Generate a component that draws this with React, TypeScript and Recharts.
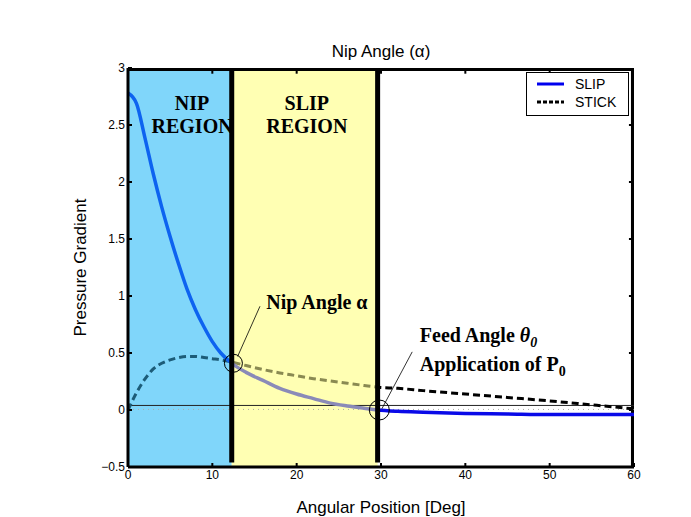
import React from "react";
import {
  LineChart,
  Line,
  XAxis,
  YAxis,
  Legend,
  ReferenceArea,
  ReferenceLine,
  ReferenceDot,
} from "recharts";

// angular position [deg]
const angle = [0, 1, 2, 3, 4, 5, 6, 7, 8, 9, 10, 11, 12.3, 14, 16, 18, 20, 22, 24, 26, 28, 29.6, 32, 35, 40, 45, 50, 55, 60];
const slip = [2.78, 2.69, 2.39, 2.07, 1.78, 1.52, 1.28, 1.06, 0.88, 0.73, 0.6, 0.5, 0.41, 0.33, 0.26, 0.19, 0.14, 0.1, 0.06, 0.035, 0.015, 0, -0.012, -0.02, -0.03, -0.035, -0.04, -0.04, -0.04];
const stick = [0, 0.15, 0.27, 0.36, 0.41, 0.44, 0.46, 0.47, 0.47, 0.46, 0.45, 0.44, 0.42, 0.39, 0.355, 0.325, 0.3, 0.275, 0.255, 0.235, 0.215, 0.2, 0.19, 0.17, 0.14, 0.11, 0.08, 0.045, 0.01];

const xTicks = [0, 10, 20, 30, 40, 50, 60];
const yTicks = [-0.5, 0, 0.5, 1, 1.5, 2, 2.5, 3];
const xDomain = [0, 60];
const yDomain = [-0.5, 3];

const nipAngle = 12.3;
const feedAngle = 29.6;
const nipPressure = 0.41;
const feedPressure = 0;
const baseLevel = 0.04;

const legendItems = [
  { name: "SLIP", color: "#0000ee", dash: "" },
  { name: "STICK", color: "#000000", dash: "4 2" },
];

const data = angle.map((a, i) => ({ angle: a, slip: slip[i], stick: stick[i] }));

const serif = "'Liberation Serif', 'Times New Roman', serif";
const sans = "'Liberation Sans', Arial, sans-serif";

const nipOff = nipAngle / xDomain[1];
const feedOff = feedAngle / xDomain[1];

const note = (render: (x: number, y: number) => React.ReactNode) => ({
  content: (p: any) => {
    const vb = p.viewBox || {};
    return render(vb.x + (vb.width || 0) / 2, vb.y + (vb.height || 0) / 2);
  },
});

const boldText = { fontFamily: serif, fontWeight: 700, fontSize: 20, fill: "#000" };

const [x0, x1] = xDomain;
const [y0, y1] = yDomain;

const App = () => {
  return (
    <div style={{ position: "absolute", left: 0, top: 0, width: 691, height: 517, background: "#fff" }}>
      <LineChart
        width={691}
        height={517}
        data={data}
        margin={{ top: 67, right: 57, bottom: 0, left: 32 }}
      >
        <defs>
          <linearGradient id="slipGrad" x1="0" y1="0" x2="1" y2="0">
            <stop offset={0} stopColor="#0d63f0" />
            <stop offset={nipOff} stopColor="#0d63f0" />
            <stop offset={nipOff} stopColor="#8a8ab8" />
            <stop offset={feedOff} stopColor="#8a8ab8" />
            <stop offset={feedOff} stopColor="#0a0ae8" />
            <stop offset={1} stopColor="#0a0ae8" />
          </linearGradient>
          <linearGradient id="stickGrad" x1="0" y1="0" x2="1" y2="0">
            <stop offset={0} stopColor="#1c5c78" />
            <stop offset={nipOff} stopColor="#1c5c78" />
            <stop offset={nipOff} stopColor="#8a8a52" />
            <stop offset={feedOff} stopColor="#8a8a52" />
            <stop offset={feedOff} stopColor="#000" />
            <stop offset={1} stopColor="#000" />
          </linearGradient>
        </defs>

        <ReferenceArea x1={x0} x2={nipAngle} y1={y0} y2={y1} fill="#80d6fa" fillOpacity={1} stroke="none" />
        <ReferenceArea x1={nipAngle} x2={feedAngle} y1={y0} y2={y1} fill="#ffffb3" fillOpacity={1} stroke="none" />
        {/* top and right edges of the box as thin filled strips */}
        <ReferenceArea x1={x0} x2={x1} y1={2.974} y2={y1} fill="#000" fillOpacity={1} stroke="none" />
        <ReferenceArea x1={59.64} x2={x1} y1={y0} y2={y1} fill="#000" fillOpacity={1} stroke="none" />

        <XAxis
          dataKey="angle"
          type="number"
          domain={xDomain}
          ticks={xTicks}
          height={50}
          tickSize={-4}
          tickMargin={7}
          axisLine={{ stroke: "#000", strokeWidth: 3 }}
          tickLine={{ stroke: "#000", strokeWidth: 2 }}
          tick={{ fontSize: 12, fill: "#000", fontFamily: sans }}
          label={{ value: "Angular Position [Deg]", position: "insideBottom", offset: 4, style: { fontSize: 17, fill: "#000", fontFamily: sans } }}
        />
        <XAxis
          xAxisId="top"
          orientation="top"
          dataKey="angle"
          type="number"
          domain={xDomain}
          ticks={xTicks}
          height={1}
          tick={false}
          tickLine={false}
          axisLine={false}
          label={{ value: "Nip Angle (\u03b1)", position: "top", offset: 10, style: { fontSize: 17, fill: "#000", fontFamily: sans } }}
        />
        <YAxis
          type="number"
          domain={yDomain}
          ticks={yTicks}
          width={96}
          tickSize={-4}
          tickMargin={7}
          axisLine={{ stroke: "#000", strokeWidth: 3 }}
          tickLine={{ stroke: "#000", strokeWidth: 2 }}
          tick={{ fontSize: 12, fill: "#000", fontFamily: sans }}
          tickFormatter={(v: number) => String(v).replace("-", "\u2212")}
          label={{ value: "Pressure Gradient", angle: -90, position: "center", style: { fontSize: 17, fill: "#000", fontFamily: sans } }}
        />

        <ReferenceLine y={baseLevel} stroke="#222" strokeWidth={1} />
        <ReferenceLine y={0.005} stroke="#aaa" strokeWidth={1} strokeDasharray="1 4" />

        <Line
          type="monotone"
          dataKey="stick"
          name="STICK"
          stroke="url(#stickGrad)"
          strokeWidth={3}
          strokeDasharray="7 4"
          dot={false}
          isAnimationActive={false}
        />
        <Line
          type="monotone"
          dataKey="slip"
          name="SLIP"
          stroke="url(#slipGrad)"
          strokeWidth={3.5}
          dot={false}
          isAnimationActive={false}
        />

        <ReferenceLine segment={[{ x: nipAngle, y: y1 }, { x: nipAngle, y: -0.46 }]} stroke="#000" strokeWidth={5} />
        <ReferenceLine segment={[{ x: feedAngle, y: y1 }, { x: feedAngle, y: -0.46 }]} stroke="#000" strokeWidth={5} />

        {xTicks.slice(1, -1).map((t) => (
          <ReferenceLine key={"tx" + t} segment={[{ x: t, y: 2.99 }, { x: t, y: 2.95 }]} stroke="#000" strokeWidth={2} />
        ))}
        {yTicks.slice(1, -1).map((t) => (
          <ReferenceLine key={"ty" + t} segment={[{ x: 59.9, y: t }, { x: 59.4, y: t }]} stroke="#000" strokeWidth={2} />
        ))}

        <ReferenceDot x={nipAngle + 0.2} y={nipPressure} r={9} fill="none" stroke="#000" strokeWidth={1} />
        <ReferenceDot x={feedAngle + 0.2} y={feedPressure} r={10} fill="none" stroke="#000" strokeWidth={1} />

        <ReferenceLine segment={[{ x: 15.65, y: 0.91 }, { x: 13.0, y: 0.47 }]} stroke="#000" strokeWidth={0.8} />
        <ReferenceLine segment={[{ x: 33.7, y: 0.51 }, { x: 30.1, y: 0.01 }]} stroke="#000" strokeWidth={0.8} />

        <ReferenceDot
          x={7.6}
          y={2.69}
          r={0}
          fill="none"
          stroke="none"
          label={note((x, y) => (
            <text x={x} y={y} textAnchor="middle" dominantBaseline="central" {...boldText}>NIP</text>
          ))}
        />
        <ReferenceDot
          x={7.6}
          y={2.49}
          r={0}
          fill="none"
          stroke="none"
          label={note((x, y) => (
            <text x={x} y={y} textAnchor="middle" dominantBaseline="central" {...boldText}>REGION</text>
          ))}
        />
        <ReferenceDot
          x={21.2}
          y={2.69}
          r={0}
          fill="none"
          stroke="none"
          label={note((x, y) => (
            <text x={x} y={y} textAnchor="middle" dominantBaseline="central" {...boldText}>SLIP</text>
          ))}
        />
        <ReferenceDot
          x={21.2}
          y={2.49}
          r={0}
          fill="none"
          stroke="none"
          label={note((x, y) => (
            <text x={x} y={y} textAnchor="middle" dominantBaseline="central" {...boldText}>REGION</text>
          ))}
        />
        <ReferenceDot
          x={16.4}
          y={0.95}
          r={0}
          fill="none"
          stroke="none"
          label={note((x, y) => (
            <text x={x} y={y} textAnchor="start" dominantBaseline="central" {...boldText}>{"Nip Angle \u03b1"}</text>
          ))}
        />
        <ReferenceDot
          x={34.6}
          y={0.6}
          r={0}
          fill="none"
          stroke="none"
          label={note((x, y) => (
            <text x={x} y={y} textAnchor="start" {...boldText}>
              Feed Angle <tspan fontStyle="italic">{"\u03b8"}</tspan>
              <tspan fontStyle="italic" fontSize={14} dy={5}>0</tspan>
            </text>
          ))}
        />
        <ReferenceDot
          x={34.6}
          y={0.34}
          r={0}
          fill="none"
          stroke="none"
          label={note((x, y) => (
            <text x={x} y={y} textAnchor="start" {...boldText}>
              Application of P<tspan fontSize={14} dy={5}>0</tspan>
            </text>
          ))}
        />

        <Legend
          layout="vertical"
          align="center"
          verticalAlign="middle"
          wrapperStyle={{ top: 72, left: 526, width: 103, height: 44 }}
          content={() => (
            <div
              style={{
                boxSizing: "border-box",
                width: 103,
                height: 44,
                border: "1px solid #000",
                background: "#fff",
                paddingTop: 2,
                fontFamily: sans,
                fontSize: 14,
                color: "#000",
              }}
            >
              {legendItems.map((it) => (
                <div key={it.name} style={{ display: "flex", alignItems: "center", height: 18 }}>
                  <svg width={48} height={18} style={{ display: "block" }}>
                    <line x1={10} x2={37} y1={9} y2={9} stroke={it.color} strokeWidth={3} strokeDasharray={it.dash || undefined} />
                  </svg>
                  <span style={{ lineHeight: "18px" }}>{it.name}</span>
                </div>
              ))}
            </div>
          )}
        />
      </LineChart>
    </div>
  );
};

export default App;
